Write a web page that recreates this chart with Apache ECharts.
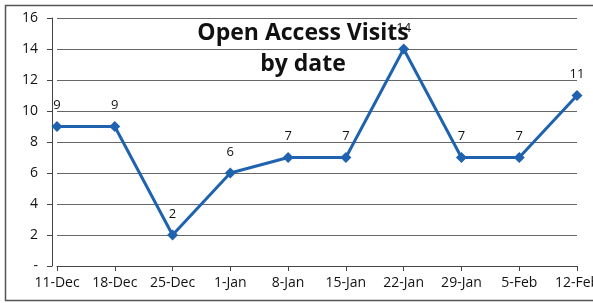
<!DOCTYPE html>
<html>
<head>
<meta charset="utf-8">
<script src="https://cdn.jsdelivr.net/npm/echarts@6/dist/echarts.min.js"></script>
<style>
  html, body { margin: 0; padding: 0; background: #fff; }
  #chart { width: 593px; height: 303px; }
</style>
</head>
<body>
<div id="chart"></div>
<script>
const dates = ['11-Dec', '18-Dec', '25-Dec', '1-Jan', '8-Jan', '15-Jan', '22-Jan', '29-Jan', '5-Feb', '12-Feb'];
const visits = [9, 9, 2, 6, 7, 7, 14, 7, 7, 11];
const yTicks = [0, 2, 4, 6, 8, 10, 12, 14, 16];

const chart = echarts.init(document.getElementById('chart'));

chart.setOption({
  animation: false,
  textStyle: { fontFamily: 'Open Sans', color: '#111' },
  title: {
    text: 'Open Access Visits\nby date',
    left: 298,
    top: 13,
    textAlign: 'center',
    textStyle: {
      fontFamily: 'Open Sans',
      fontSize: 23,
      fontWeight: 'bold',
      lineHeight: 31,
      color: '#111'
    }
  },
  graphic: [
    {
      type: 'rect',
      shape: { x: 5.5, y: 5.5, width: 600, height: 295 },
      style: { fill: 'none', stroke: '#555', lineWidth: 1.5 },
      z: -1
    }
  ],
  grid: { left: 57, right: 16, top: 18, bottom: 37, outerBoundsMode: 'none' },
  xAxis: {
    type: 'category',
    data: dates,
    boundaryGap: false,
    axisLine: { lineStyle: { color: '#444', width: 1 } },
    axisTick: { alignWithLabel: true, length: 5, lineStyle: { color: '#444' } },
    axisLabel: { fontSize: 14, color: '#111', margin: 10, interval: 0 }
  },
  yAxis: {
    type: 'value',
    min: 0,
    max: 16,
    interval: 2,
    offset: 5,
    axisLine: { show: true, lineStyle: { color: '#444', width: 1 } },
    axisTick: { show: true, length: 5, lineStyle: { color: '#444' } },
    splitLine: { lineStyle: { color: '#666', width: 1 } },
    axisLabel: {
      fontSize: 14,
      color: '#111',
      margin: 14,
      formatter: v => (v === 0 ? '-' : (yTicks.includes(v) ? String(v) : ''))
    }
  },
  series: [
    {
      type: 'line',
      data: visits,
      symbol: 'diamond',
      symbolSize: 11,
      lineStyle: { color: '#1f63b0', width: 3 },
      itemStyle: { color: '#1f63b0' },
      label: {
        show: true,
        position: 'top',
        distance: 9,
        fontSize: 13,
        color: '#111'
      }
    }
  ]
});
</script>
</body>
</html>
